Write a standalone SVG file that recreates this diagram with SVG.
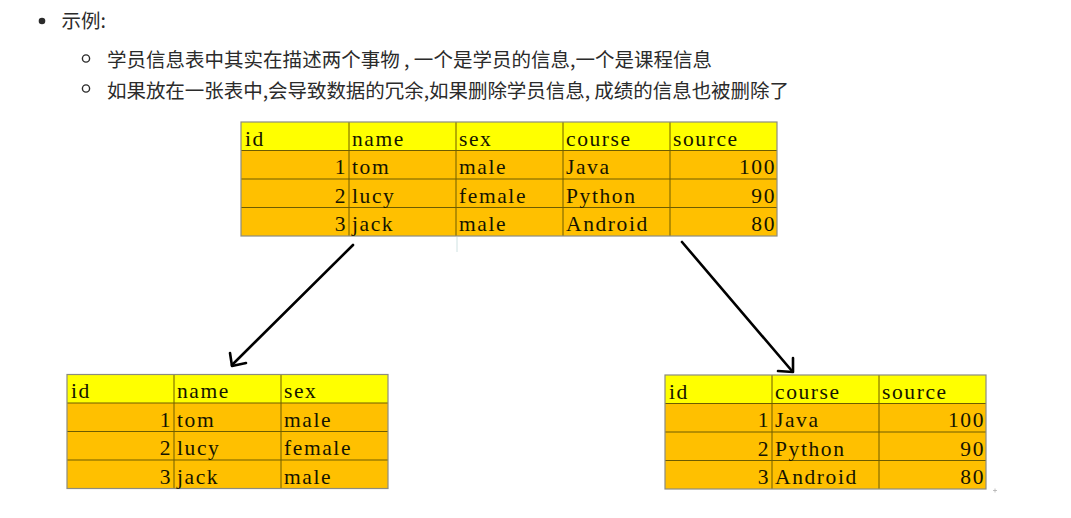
<svg xmlns="http://www.w3.org/2000/svg" width="1071" height="518" viewBox="0 0 1071 518">
<style>
.cn{font-family:"Noto Sans CJK SC","Noto Sans",sans-serif;font-size:19.5px;fill:#2b2b2b}
.t{font-family:"Liberation Serif","Times New Roman",serif;font-size:21.5px;letter-spacing:1.6px;fill:#141400}
.r{text-anchor:end}
.hd{fill:#ffff00}
.row{fill:#ffc000}
.grid{stroke:#6e5c00;stroke-width:1;fill:none}
.border{stroke:#8c8c80;stroke-width:1.2;fill:none}
.arrow{stroke:#000;stroke-width:2.6;fill:none;stroke-linecap:round;stroke-linejoin:round}
</style>
<rect width="1071" height="518" fill="#ffffff"/>

<g id="text-block">
<circle cx="42" cy="21" r="3.3" fill="#2b2b2b"/>
<text class="cn" x="61.5" y="27.5">示例:</text>
<circle cx="86" cy="58.5" r="3.6" fill="none" stroke="#2b2b2b" stroke-width="1.4"/>
<text class="cn" x="107" y="66.5" textLength="605" lengthAdjust="spacing">学员信息表中其实在描述两个事物 , 一个是学员的信息,一个是课程信息</text>
<circle cx="86" cy="88.5" r="3.6" fill="none" stroke="#2b2b2b" stroke-width="1.4"/>
<text class="cn" x="107" y="97.5" textLength="682" lengthAdjust="spacing">如果放在一张表中,会导致数据的冗余,如果删除学员信息, 成绩的信息也被删除了</text>
</g>

<g id="table-main">
<rect class="hd" x="241" y="122" width="536" height="28.5"/>
<rect class="row" x="241" y="150.5" width="536" height="85.5"/>
<path class="grid" d="M241,150.5H777M241,179H777M241,207.5H777M349,122V236M456,122V236M563,122V236M670,122V236"/>
<rect class="border" x="241" y="122" width="536" height="114"/>
<text class="t" x="245" y="145.5">id</text>
<text class="t" x="352" y="145.5">name</text>
<text class="t" x="459" y="145.5">sex</text>
<text class="t" x="566" y="145.5">course</text>
<text class="t" x="673" y="145.5">source</text>
<text class="t r" x="347" y="174">1</text>
<text class="t" x="352" y="174">tom</text>
<text class="t" x="459" y="174">male</text>
<text class="t" x="566" y="174">Java</text>
<text class="t r" x="776" y="174">100</text>
<text class="t r" x="347" y="202.5">2</text>
<text class="t" x="352" y="202.5">lucy</text>
<text class="t" x="459" y="202.5">female</text>
<text class="t" x="566" y="202.5">Python</text>
<text class="t r" x="776" y="202.5">90</text>
<text class="t r" x="347" y="231">3</text>
<text class="t" x="352" y="231">jack</text>
<text class="t" x="459" y="231">male</text>
<text class="t" x="566" y="231">Android</text>
<text class="t r" x="776" y="231">80</text>
</g>
<line x1="457" y1="237" x2="457" y2="252" stroke="#cfe2e2" stroke-width="1"/>

<g id="table-student">
<rect class="hd" x="67" y="374.5" width="321" height="28.5"/>
<rect class="row" x="67" y="403" width="321" height="85.5"/>
<path class="grid" d="M67,403H388M67,431.5H388M67,460H388M174,374.5V488.5M281,374.5V488.5"/>
<rect class="border" x="67" y="374.5" width="321" height="114"/>
<text class="t" x="71" y="398">id</text>
<text class="t" x="177" y="398">name</text>
<text class="t" x="284" y="398">sex</text>
<text class="t r" x="172" y="426.5">1</text>
<text class="t" x="177" y="426.5">tom</text>
<text class="t" x="284" y="426.5">male</text>
<text class="t r" x="172" y="455">2</text>
<text class="t" x="177" y="455">lucy</text>
<text class="t" x="284" y="455">female</text>
<text class="t r" x="172" y="483.5">3</text>
<text class="t" x="177" y="483.5">jack</text>
<text class="t" x="284" y="483.5">male</text>
</g>

<g id="table-course">
<rect class="hd" x="665" y="375" width="321" height="28.5"/>
<rect class="row" x="665" y="403.5" width="321" height="85.5"/>
<path class="grid" d="M665,403.5H986M665,432H986M665,460.5H986M772,375V489M879,375V489"/>
<rect class="border" x="665" y="375" width="321" height="114"/>
<text class="t" x="669" y="398.5">id</text>
<text class="t" x="775" y="398.5">course</text>
<text class="t" x="882" y="398.5">source</text>
<text class="t r" x="770" y="427">1</text>
<text class="t" x="775" y="427">Java</text>
<text class="t r" x="985" y="427">100</text>
<text class="t r" x="770" y="455.5">2</text>
<text class="t" x="775" y="455.5">Python</text>
<text class="t r" x="985" y="455.5">90</text>
<text class="t r" x="770" y="484">3</text>
<text class="t" x="775" y="484">Android</text>
<text class="t r" x="985" y="484">80</text>
</g>

<g id="connectors">
<path class="arrow" d="M353,245L232,365"/>
<path class="arrow" d="M230,353L232,366L246,363"/>
<path class="arrow" d="M682,242L792,371"/>
<path class="arrow" d="M793,358L793,372L778,371"/>
</g>

<path d="M993,490.5h4M995,488.5v4" stroke="#b0b0b0" stroke-width="0.8"/>
</svg>
